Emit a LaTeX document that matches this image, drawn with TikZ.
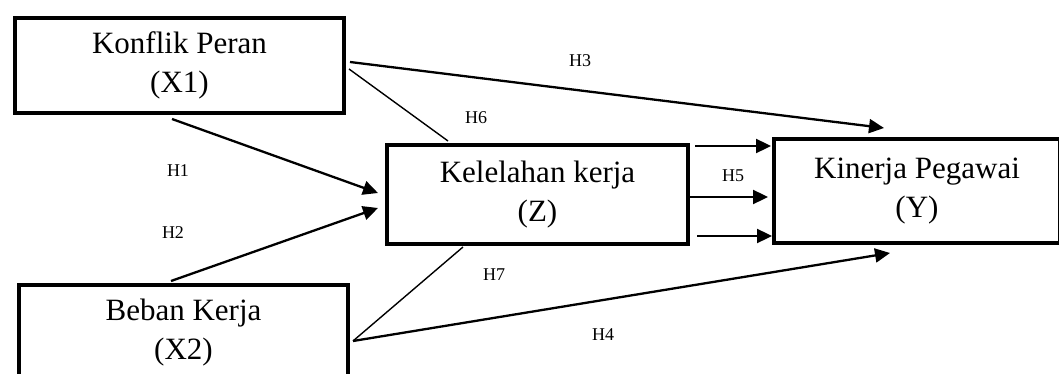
\documentclass[tikz,border=0pt]{standalone}
\usepackage{fontspec}
\setmainfont{Liberation Serif}
\usetikzlibrary{arrows.meta,calc}
\begin{document}
\begin{tikzpicture}[x=1pt,y=-1pt,
  box/.style={draw,line width=4pt,align=center,inner sep=0pt,
    font=\fontsize{31}{39}\selectfont},
  arr/.style={line width=2.3pt,-{Triangle[length=15pt,width=14pt]}},
  thinline/.style={line width=1.4pt},
  hlab/.style={font=\fontsize{18}{22}\selectfont,inner sep=0pt}]
\useasboundingbox (0,0) rectangle (1059,374);
\clip (0,0) rectangle (1059,374);
\node[box,minimum width=329pt,minimum height=95pt] (X1) at (179.5,65.5) {Konflik Peran\\(X1)};
\node[box,minimum width=329pt,minimum height=95pt] (X2) at (183.5,332.5) {Beban Kerja\\(X2)};
\node[box,minimum width=301pt,minimum height=99pt] (Z) at (537.5,194.5) {Kelelahan kerja\\(Z)};
\node[box,minimum width=286pt,minimum height=104pt] (Y) at (917,191) {Kinerja Pegawai\\(Y)};
% H1, H2
\draw[arr] ($(X1.south)+(-7.5,4)$) -- ($(Z.west)+(-7,-1.5)$);
\draw[arr] ($(X2.north)+(-12.5,-2)$) -- ($(Z.west)+(-7,13.5)$);
% H3, H4
\draw[arr] ($(X1.east)+(4,-3.5)$) -- ($(Y.north)+(-33,-9)$);
\draw[arr] ($(X2.east)+(3,8.5)$) -- ($(Y.south)+(-27,8)$);
% H6, H7
\draw[thinline] ($(X1.east)+(3,3.5)$) -- ($(Z.north)+(-89.5,-2)$);
\draw[thinline] ($(X2.east)+(3,8.5)$) -- ($(Z.south)+(-74.5,1)$);
% H5
\draw[arr] ($(Z.east)+(5,-48.5)$) -- ($(Y.west)+(-1,-45)$);
\draw[arr] ($(Z.east)+(0,2.5)$) -- ($(Y.west)+(-4,6)$);
\draw[arr] ($(Z.east)+(7,41.5)$) -- ($(Y.west)+(0,45)$);
% labels
\node[hlab] (h1) at (178,171) {H1};
\node[hlab] (h2) at (173,233) {H2};
\node[hlab] (h3) at (580,61) {H3};
\node[hlab] (h4) at (603,335) {H4};
\node[hlab] (h5) at (733,176) {H5};
\node[hlab] (h6) at (476,118) {H6};
\node[hlab] (h7) at (494,275) {H7};
\end{tikzpicture}
\end{document}
